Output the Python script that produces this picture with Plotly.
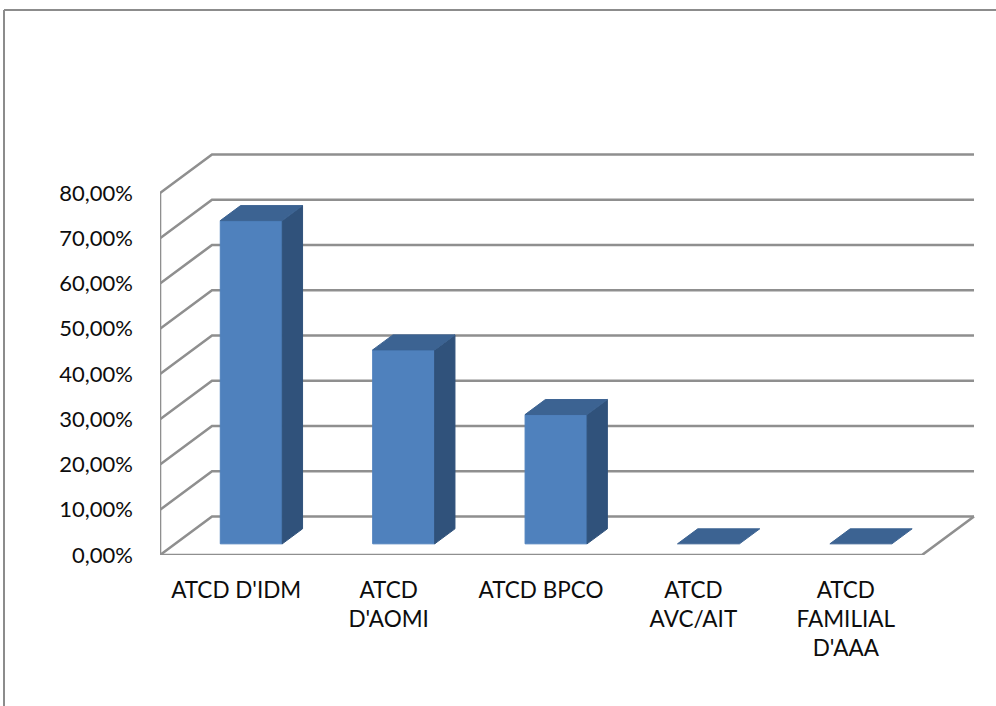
import plotly.graph_objects as go

# Antécédents (ATCD) – share of patients, in percent
categories = ["ATCD D'IDM", "ATCD<br>D'AOMI", "ATCD BPCO", "ATCD<br>AVC/AIT", "ATCD<br>FAMILIAL<br>D'AAA"]
values = [71.43, 42.86, 28.57, 0.0, 0.0]
y_ticks = [0, 10, 20, 30, 40, 50, 60, 70, 80]
y_tick_text = [f"{t:.2f}%".replace(".", ",") for t in y_ticks]

# --- layout geometry (pixels) ---
W, H = 996, 706
ML, MR, MT, MB = 160, 16, 140, 151
PX_PER_CAT = 152.4          # horizontal pixels per category slot
PX_PER_PCT = 4.525          # vertical pixels per percent
DEPTH_PX = (52.0, 38.5)     # oblique offset of the back wall

DX = DEPTH_PX[0] / PX_PER_CAT   # depth offset in category units
DY = DEPTH_PX[1] / PX_PER_PCT   # depth offset in percent units
BAR_W = 62.0 / PX_PER_CAT
D_FRONT, D_BACK = 0.29, 0.68     # bar position along the depth axis

x_max = (W - ML - MR) / PX_PER_CAT
y_max = (H - MT - MB) / PX_PER_PCT
n = len(categories)

GRID = "#8f8f8f"
FRONT = "#4f81bd"
SIDE = "#30527b"
TOP = "#3c6392"


def proj(x, y, d):
    """Oblique projection: depth d in [0, 1] shifts up and right."""
    return x + d * DX, y + d * DY


fig = go.Figure()


def add_line(pts, color=GRID, width=2.6):
    xs, ys = zip(*pts)
    fig.add_trace(go.Scatter(x=list(xs), y=list(ys), mode="lines",
                             line=dict(color=color, width=width),
                             hoverinfo="skip", showlegend=False))


def add_face(pts, color):
    xs, ys = zip(*(pts + [pts[0]]))
    fig.add_trace(go.Scatter(x=list(xs), y=list(ys), mode="lines",
                             fill="toself", fillcolor=color,
                             line=dict(color=color, width=1),
                             hoverinfo="skip", showlegend=False))


# back wall gridlines and left side wall
for t in y_ticks:
    add_line([proj(0, t, 0), proj(0, t, 1), proj(n, t, 1)])
add_line([proj(0, 0, 0), proj(0, y_ticks[-1], 0)])
# floor edges
add_line([proj(0, 0, 0), proj(n, 0, 0), proj(n, 0, 1)])

# 3D bars
for i, v in enumerate(values):
    x0 = i + 0.5 - BAR_W / 2
    x1 = i + 0.5 + BAR_W / 2
    if v > 0:
        add_face([proj(x0, 0, D_FRONT), proj(x1, 0, D_FRONT),
                  proj(x1, v, D_FRONT), proj(x0, v, D_FRONT)], FRONT)
        add_face([proj(x1, 0, D_FRONT), proj(x1, 0, D_BACK),
                  proj(x1, v, D_BACK), proj(x1, v, D_FRONT)], SIDE)
    add_face([proj(x0, v, D_FRONT), proj(x1, v, D_FRONT),
              proj(x1, v, D_BACK), proj(x0, v, D_BACK)], TOP)

font = dict(family="Lato, Carlito, sans-serif", size=22, color="#0d0d0d")
xfont = dict(family="Lato, Carlito, sans-serif", size=22.5, color="#0d0d0d")

fig.update_layout(
    width=W, height=H,
    margin=dict(l=ML, r=MR, t=MT, b=MB),
    paper_bgcolor="white", plot_bgcolor="white",
    font=font,
    xaxis=dict(range=[0, x_max], tickvals=[i + 0.5 for i in range(n)],
               ticktext=categories, showgrid=False, zeroline=False,
               showline=False, ticks="", ticklabelstandoff=19,
               tickfont=xfont, fixedrange=True),
    yaxis=dict(range=[0, y_max], tickvals=y_ticks, ticktext=y_tick_text,
               showgrid=False, zeroline=False,
               showline=False, ticks="", ticklabelstandoff=26,
               tickfont=font, fixedrange=True),
    shapes=[
        # chart area border (top and left edges)
        dict(type="line", xref="paper", yref="paper",
             x0=(4 - ML) / (W - ML - MR), x1=(W - ML) / (W - ML - MR),
             y0=(H - MB - 10) / (H - MT - MB), y1=(H - MB - 10) / (H - MT - MB),
             line=dict(color="#8c8c8c", width=2)),
        dict(type="line", xref="paper", yref="paper",
             x0=(4 - ML) / (W - ML - MR), x1=(4 - ML) / (W - ML - MR),
             y0=(H - MB - 10) / (H - MT - MB), y1=-MB / (H - MT - MB),
             line=dict(color="#8c8c8c", width=2)),
    ],
)

fig.write_html("out.html")
